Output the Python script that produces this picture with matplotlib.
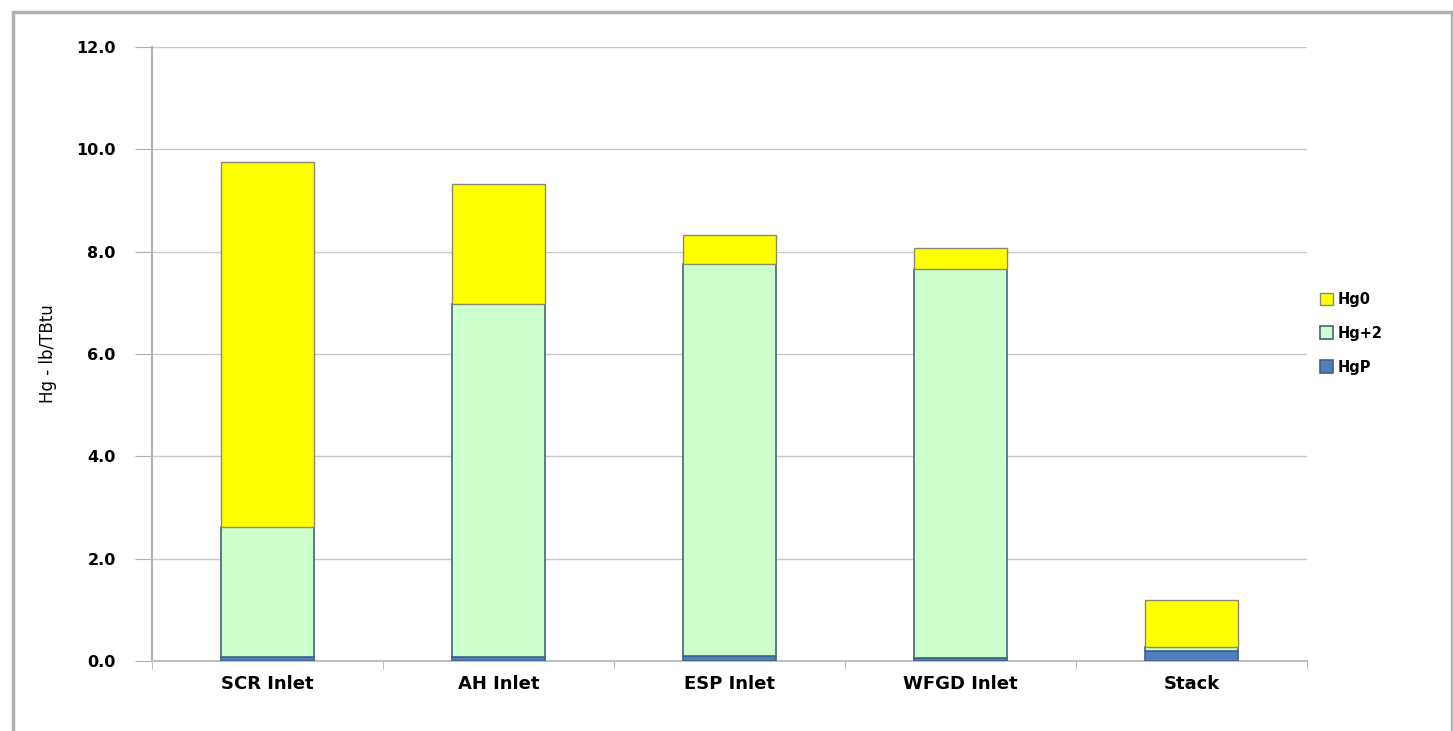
import matplotlib.pyplot as plt
from matplotlib.patches import Rectangle
import numpy as np

categories = ["SCR Inlet", "AH Inlet", "ESP Inlet", "WFGD Inlet", "Stack"]
hgp = [0.07, 0.07, 0.10, 0.05, 0.20]
hg2 = [2.55, 6.91, 7.66, 7.61, 0.07]
hg0 = [7.13, 2.34, 0.57, 0.41, 0.92]
yticks = [0.0, 2.0, 4.0, 6.0, 8.0, 10.0, 12.0]

fig = plt.figure(figsize=(14.53, 7.31), dpi=100)
ax = fig.add_axes([0.1046, 0.0958, 0.795, 0.840])

# outer frame of the picture
fig.patches.append(Rectangle((0.009, -0.01), 0.99, 0.993, transform=fig.transFigure,
                             fill=False, edgecolor="#b0b0b0", linewidth=2.5))

x = np.arange(len(categories))
edge = "#3f6384"
w = 0.4
b1 = ax.bar(x, hgp, w, color="#4f7fbf", edgecolor=edge, linewidth=1.2, label="HgP", zorder=3)
b2 = ax.bar(x, hg2, w, bottom=hgp, color="#ccffcc", edgecolor=edge, linewidth=1.2, label="Hg+2", zorder=3)
bot = np.array(hgp) + np.array(hg2)
b3 = ax.bar(x, hg0, w, bottom=bot, color="#ffff00", edgecolor="#8a8a70", linewidth=1.0, label="Hg0", zorder=3)

ax.set_xlim(-0.5, len(categories) - 0.5)
ax.set_ylim(0, 12)
ax.set_yticks(yticks)
ax.set_yticklabels([f"{v:.1f}" for v in yticks], fontweight="bold", fontsize=11.5)
ax.set_xticks(x)
ax.set_xticklabels(categories, fontweight="bold", fontsize=13)
ax.set_xticks(np.arange(len(categories) + 1) - 0.5, minor=True)
ax.tick_params(axis="x", which="major", length=0, pad=10)
ax.tick_params(axis="x", which="minor", length=6, color="#b0b0b0", direction="out")
ax.tick_params(axis="y", length=12, color="#b0b0b0", pad=14)
ax.grid(axis="y", color="#c8c8c8", linewidth=1, zorder=0)

for s in ["top", "right"]:
    ax.spines[s].set_visible(False)
ax.spines["left"].set_color("#b0b0b0")
ax.spines["left"].set_linewidth(1.5)
ax.spines["bottom"].set_color("#c0c0c0")
ax.spines["bottom"].set_linewidth(1.5)

ax.set_ylabel("Hg - lb/TBtu", fontsize=12, labelpad=14)

leg = ax.legend(handles=[b3, b2, b1], loc="center left", bbox_to_anchor=(1.0, 0.534),
                frameon=False, prop={"weight": "bold", "size": 10.5},
                handlelength=0.9, handleheight=0.9, handletextpad=0.3, labelspacing=1.3)

fig.savefig("out.png", dpi=100)
